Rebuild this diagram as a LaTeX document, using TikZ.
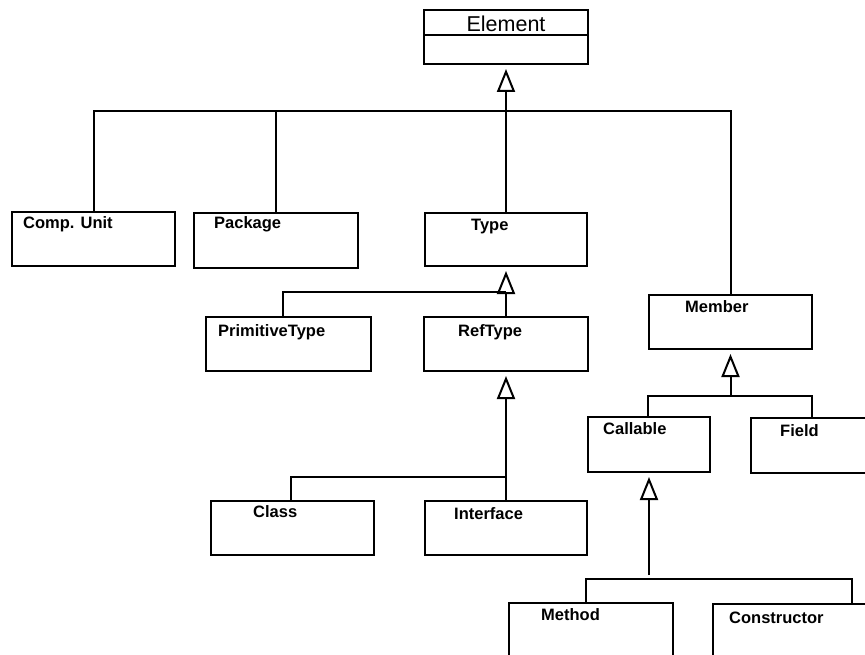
\documentclass[tikz,border=0pt]{standalone}
\usepackage{fontspec}
\setmainfont{Liberation Sans}
\usetikzlibrary{arrows.meta}
\begin{document}
\begin{tikzpicture}[x=1pt,y=-1pt,
  box/.style={draw, line width=2pt, inner sep=0pt, anchor=north west, minimum height=54pt},
  lbl/.style={anchor=base west, inner sep=0pt, font=\fontsize{16.5}{19}\selectfont\bfseries},
  conn/.style={line width=2pt},
  gen/.style={line width=2pt, -{Triangle[open, length=23pt, width=18pt, line width=2pt]}, shorten >=4pt}]
\useasboundingbox (0,0) rectangle (865,655);
\clip (0,0) rectangle (865,655);
% Element
\node[box, minimum width=164pt, minimum height=54pt] (el) at (423,9) {};
\draw[conn] (el.west |- 0,35) coordinate (eld1) -- (el.east |- 0,35) coordinate (eld2);
\node[anchor=base, inner sep=0pt, font=\fontsize{21.5}{24}\selectfont] (elt) at (506,31.5) {Element};
% level 1
\node[box, minimum width=163pt] (cu) at (11,211) {};
\node[lbl] (cut) at (23,229) {Comp. Unit};
\node[box, minimum width=164pt, minimum height=55pt] (pk) at (193,212) {};
\node[lbl] (pkt) at (214,229) {Package};
\node[box, minimum width=162pt, minimum height=53pt] (ty) at (424,212) {};
\node[lbl] (tyt) at (471,231) {Type};
\node[box, minimum width=163pt] (me) at (648,294) {};
\node[lbl] (met) at (685,312) {Member};
% level 2
\node[box, minimum width=165pt] (pt) at (205,316) {};
\node[lbl] (ptt) at (218,336) {PrimitiveType};
\node[box, minimum width=164pt] (rt) at (423,316) {};
\node[lbl] (rtt) at (458,336) {RefType};
\node[box, minimum width=122pt, minimum height=55pt] (ca) at (587,416) {};
\node[lbl] (cat) at (603,434) {Callable};
\node[box, minimum width=124pt, minimum height=55pt] (fi) at (750,417) {};
\node[lbl] (fit) at (780,436) {Field};
% level 3
\node[box, minimum width=163pt] (cl) at (210,500) {};
\node[lbl] (clt) at (253,517) {Class};
\node[box, minimum width=162pt] (if) at (424,500) {};
\node[lbl] (ift) at (454,519) {Interface};
\node[box, minimum width=164pt, minimum height=70pt] (mt) at (508,602) {};
\node[lbl] (mtt) at (541,620) {Method};
\node[box, minimum width=164pt, minimum height=70pt] (co) at (712,603) {};
\node[lbl] (cot) at (729,623) {Constructor};
% connectors: Element
\coordinate (j1) at (ty.north |- 0,111);
\draw[gen] (ty.north) -- (el.south -| ty.north);
\draw[conn] (cu.north) |- (j1);
\draw[conn] (pk.north) |- (j1);
\draw[conn] (me.north) |- (j1);
% Type
\coordinate (j2) at (rt.north |- 0,292);
\coordinate (p2) at (283,316);
\draw[gen] (rt.north) -- (ty.south -| rt.north);
\draw[conn] (p2) |- (j2);
% RefType
\coordinate (j3) at (if.north |- 0,477);
\coordinate (p3) at (291,500);
\draw[gen] (if.north) -- (rt.south -| if.north);
\draw[conn] (p3) |- (j3);
% Member
\coordinate (j4) at (me.south |- 0,396);
\coordinate (p4) at (812,417);
\draw[gen] (j4) -- (me.south);
\draw[conn] (ca.north -| 648,0) |- (j4);
\draw[conn] (p4) |- (j4);
% Callable
\coordinate (j5) at (ca.south |- 0,575);
\coordinate (p5a) at (586,602);
\coordinate (p5b) at (852,603);
\draw[gen] (j5) -- (ca.south);
\draw[conn] (p5a) |- (p5b |- 0,579) -- (p5b);
\end{tikzpicture}
\end{document}
